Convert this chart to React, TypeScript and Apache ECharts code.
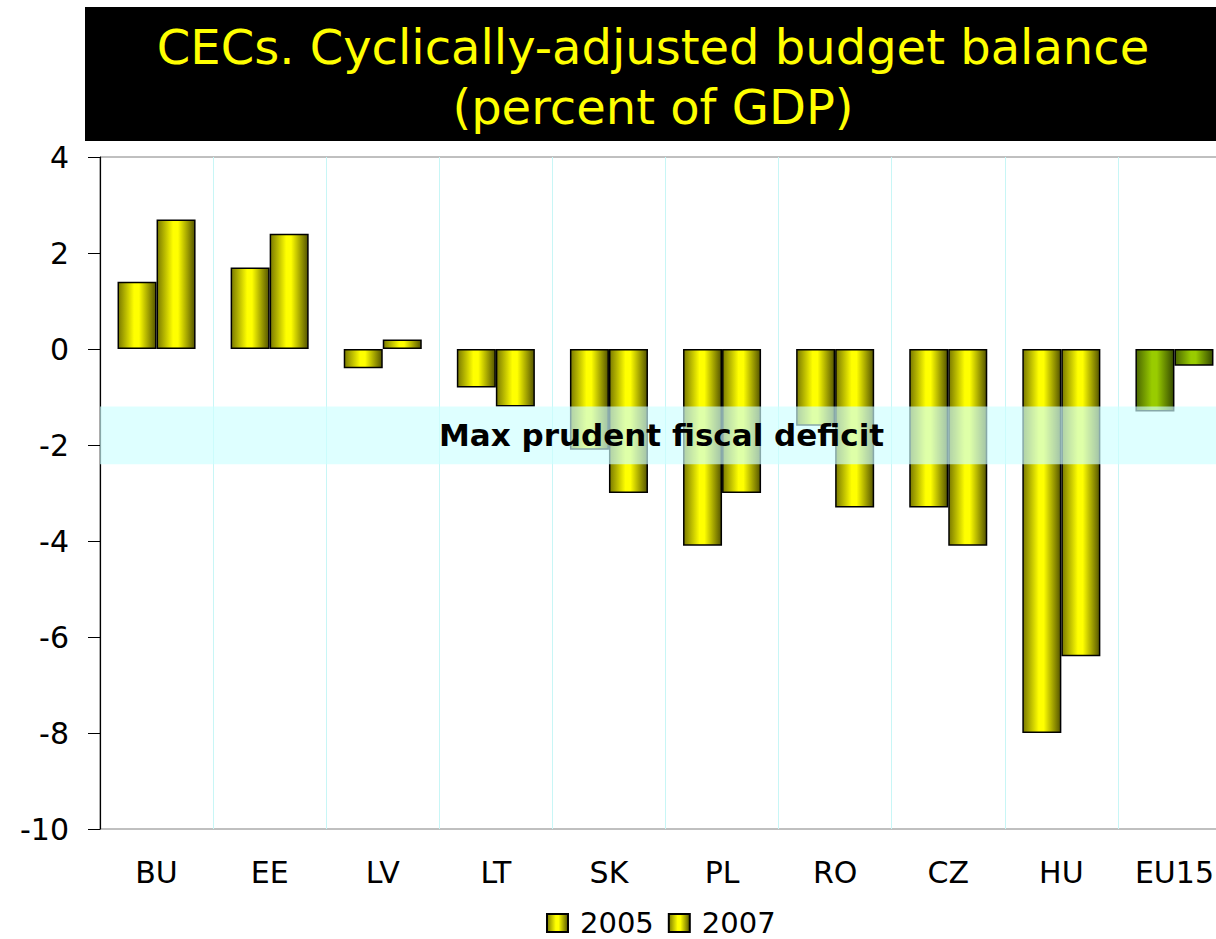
import React, { useEffect, useRef } from "react";
import * as echarts from "echarts";

const categories = ["BU", "EE", "LV", "LT", "SK", "PL", "RO", "CZ", "HU", "EU15"];
const values2005 = [1.4, 1.7, -0.4, -0.8, -2.1, -4.1, -1.6, -3.3, -8.0, -1.3];
const values2007 = [2.7, 2.4, 0.2, -1.2, -3.0, -3.0, -3.3, -4.1, -6.4, -0.35];
const bandRange = [-1.2, -2.4];
const bandLabel = "Max prudent fiscal deficit";
const titleLines = ["CECs. Cyclically-adjusted budget balance", "(percent of GDP)"];
const yTicks = { min: -10, max: 4, interval: 2 };

const FONT = "'DejaVu Sans', Verdana, sans-serif";

const yellow = () =>
  new echarts.graphic.LinearGradient(0, 0, 1, 0, [
    { offset: 0, color: "#7a7a00" },
    { offset: 0.42, color: "#ffff00" },
    { offset: 0.55, color: "#ffff00" },
    { offset: 1, color: "#555500" },
  ]);
const green = () =>
  new echarts.graphic.LinearGradient(0, 0, 1, 0, [
    { offset: 0, color: "#4a6600" },
    { offset: 0.42, color: "#99cc00" },
    { offset: 0.55, color: "#99cc00" },
    { offset: 1, color: "#354a00" },
  ]);

function barData(vals: number[]) {
  return vals.map((v, i) =>
    categories[i] === "EU15" ? { value: v, itemStyle: { color: green() } } : v
  );
}

export default function App() {
  const ref = useRef<HTMLDivElement>(null);
  useEffect(() => {
    document.body.style.overflow = "hidden";
    document.body.style.margin = "0";
    const chart = echarts.init(ref.current!, null, { renderer: "svg" });
    const barStyle = { color: yellow(), borderColor: "#000", borderWidth: 1.5 };
    chart.setOption({
      animation: false,
      backgroundColor: "#fff",
      textStyle: { fontFamily: FONT },
      graphic: [
        { type: "rect", shape: { x: 85, y: 7, width: 1150, height: 134 }, style: { fill: "#000" } },
        {
          type: "text",
          x: 653,
          y: 47,
          style: { text: titleLines[0], fill: "#ffff00", font: `48px ${FONT}`, align: "center", verticalAlign: "middle" },
        },
        {
          type: "text",
          x: 653,
          y: 107,
          style: { text: titleLines[1], fill: "#ffff00", font: `48px ${FONT}`, align: "center", verticalAlign: "middle" },
        },
      ],
      grid: { left: 100, right: 0, top: 157, bottom: 110, show: true, borderColor: "#808080", borderWidth: 1 },
      legend: {
        data: ["2005", "2007"],
        left: 541,
        top: 903,
        icon: "rect",
        itemWidth: 21,
        itemHeight: 18,
        itemGap: 14,
        textStyle: { fontSize: 29, lineHeight: 30, color: "#000", fontFamily: FONT, padding: [0, 0, 0, 7] },
      },
      xAxis: {
        type: "category",
        data: categories,
        axisLine: { show: false },
        axisTick: { show: false },
        axisLabel: { fontSize: 30, color: "#000", margin: 28, fontFamily: FONT },
        splitLine: { show: true, lineStyle: { color: "#c8f6f6", width: 1 } },
      },
      yAxis: {
        type: "value",
        min: yTicks.min,
        max: yTicks.max,
        interval: yTicks.interval,
        axisLine: { show: true, lineStyle: { color: "#000", width: 1.2 } },
        axisTick: { show: true, inside: false, length: 12, lineStyle: { color: "#000" } },
        axisLabel: { fontSize: 30, color: "#000", margin: 31, fontFamily: FONT },
        splitLine: { show: false },
      },
      series: [
        {
          name: "2005",
          type: "bar",
          data: barData(values2005),
          itemStyle: barStyle,
          barGap: "0%",
          barCategoryGap: "31%",
        },
        {
          name: "2007",
          type: "bar",
          data: barData(values2007),
          itemStyle: barStyle,
          barGap: "0%",
          barCategoryGap: "31%",
        },
        {
          name: "overlay",
          type: "line",
          data: [],
          z: 10,
          silent: true,
          markArea: {
            silent: true,
            z: 10,
            itemStyle: { color: "rgba(205,255,255,0.66)" },
            label: {
              show: true,
              position: "inside",
              formatter: bandLabel,
              fontSize: 31,
              fontWeight: "bold",
              color: "#000",
              fontFamily: FONT,
              offset: [-4, 0],
            },
            data: [[{ yAxis: bandRange[0] }, { yAxis: bandRange[1] }]],
          },
          markLine: {
            silent: true,
            z: 11,
            symbol: "none",
            label: { show: false },
            lineStyle: { color: "#000", width: 1.5, type: "solid", shadowColor: "rgba(0,0,0,0.35)", shadowOffsetY: 2, shadowBlur: 0 },
            data: [{ yAxis: 0 }],
          },
        },
      ],
    });
    return () => chart.dispose();
  }, []);
  return <div ref={ref} style={{ position: "fixed", left: 0, top: 0, width: 1231, height: 939 }} />;
}
